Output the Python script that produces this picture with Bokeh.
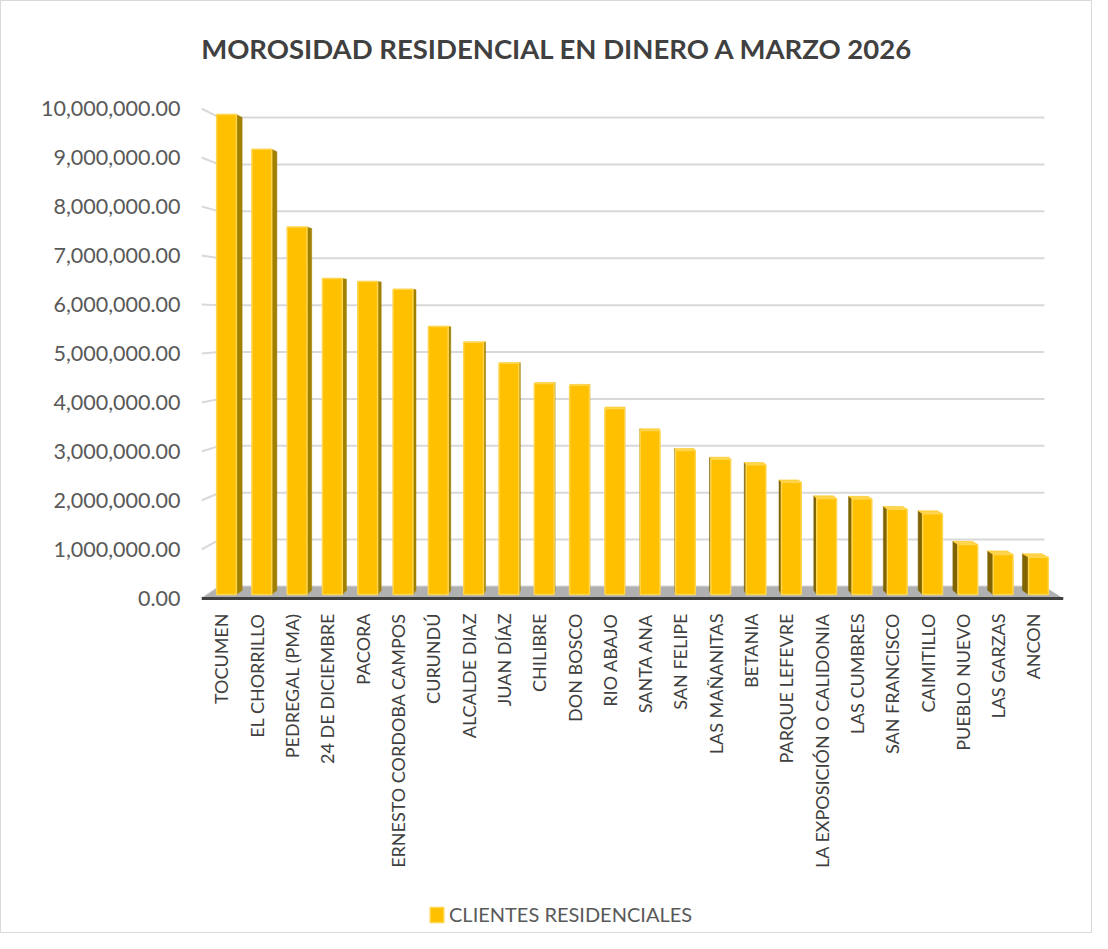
import math
from bokeh.plotting import figure
from bokeh.models import FixedTicker, NumeralTickFormatter, Legend, LegendItem, ColumnDataSource, Range1d
from bokeh.core.properties import value
from bokeh.embed import file_html
from bokeh.resources import INLINE

# ---------------- data ----------------
categories = [
    "TOCUMEN", "EL CHORRILLO", "PEDREGAL (PMA)", "24 DE DICIEMBRE", "PACORA",
    "ERNESTO CORDOBA CAMPOS", "CURUNDÚ", "ALCALDE DIAZ", "JUAN DÍAZ", "CHILIBRE",
    "DON BOSCO", "RIO ABAJO", "SANTA ANA", "SAN FELIPE", "LAS MAÑANITAS", "BETANIA",
    "PARQUE LEFEVRE", "LA EXPOSICIÓN O CALIDONIA", "LAS CUMBRES", "SAN FRANCISCO",
    "CAIMITILLO", "PUEBLO NUEVO", "LAS GARZAS", "ANCON",
]
values = [
    9880000, 9170000, 7580000, 6530000, 6470000,
    6310000, 5550000, 5230000, 4800000, 4390000,
    4350000, 3880000, 3430000, 3020000, 2840000, 2730000,
    2370000, 2040000, 2030000, 1820000,
    1730000, 1100000, 900000, 840000,
]
y_ticks = [0, 1000000, 2000000, 3000000, 4000000, 5000000,
           6000000, 7000000, 8000000, 9000000, 10000000]
series_name = "CLIENTES RESIDENCIALES"
title_text = "MOROSIDAD RESIDENCIAL EN DINERO A MARZO 2026"

# ---------------- 3-D look parameters (style) ----------------
PX_PER_UNIT = 49e-6              # pixels per currency unit on the y axis
X0, X1 = -0.708, 23.71
PX_PER_X = 862 / (X1 - X0)
Y1 = 597 / PX_PER_UNIT
Y0 = -(933 - 597) / PX_PER_UNIT
VPX, VPY = 11.16, 5690000.0      # vanishing point
BACK_S = 0.957                   # back wall scale
BAR_R = 0.985                    # bar depth scale
HW = 0.28                        # half bar width
BASE = 82000                     # bar front-face base (floor depth)
LABEL_Y = -15 / PX_PER_UNIT      # category labels start 15px under floor
TITLE_X = X0 + 356 / PX_PER_X
TITLE_Y = (597 - 47) / PX_PER_UNIT
FONT = "Lato"


def proj(x, y, s):
    return VPX + s * (x - VPX), VPY + s * (y - VPY)


xs = list(range(len(categories)))

p = figure(width=1092, height=933, x_range=Range1d(X0, X1), y_range=Range1d(Y0, Y1),
           output_backend="svg", toolbar_location=None,
           min_border_left=200, min_border_right=30, min_border_top=0,
           min_border_bottom=0)
p.styles = {"border": "1px solid #D9D9D9"}
p.outline_line_color = None
p.xgrid.visible = False
p.ygrid.visible = False
p.xaxis.visible = False
p.background_fill_color = "white"
p.border_fill_color = "white"

# title
p.text(x=[TITLE_X], y=[TITLE_Y], text=[title_text], text_align="center",
       text_baseline="middle", text_font=value(FONT), text_font_style="bold",
       text_font_size="27.5px", text_color="#404040")

# wall gridlines (side wall slanted + back wall horizontal)
gx, gy = [], []
for t in y_ticks:
    bxl, by = proj(X0, t, BACK_S)
    bxr, _ = proj(X1, t, BACK_S)
    gx.append([X0, bxl, bxr])
    gy.append([t, by, by])
p.multi_line(gx, gy, line_color="#D9D9D9", line_width=2)

# floor
fbl = proj(X0, 0, BACK_S)
fbr = proj(X1, 0, BACK_S)
p.patch([X0, X1, fbr[0], fbl[0]], [0, 0, fbr[1], fbl[1]],
        fill_color="#B0B0B0", line_color=None)
p.line([X0, X1], [0, 0], line_color="#404040", line_width=3)

# bar side and top faces
side_x, side_y, side_c = [], [], []
top_x, top_y = [], []
for c, v in zip(xs, values):
    if c < VPX:
        ex = c + HW
        col = "#A08000"
    else:
        ex = c - HW
        col = "#7F6400"
    b1 = proj(ex, BASE, BAR_R)
    b2 = proj(ex, v, BAR_R)
    side_x.append([ex, ex, b2[0], b1[0]])
    side_y.append([BASE, v, b2[1], b1[1]])
    side_c.append(col)
    if v < VPY:
        t1 = proj(c - HW, v, BAR_R)
        t2 = proj(c + HW, v, BAR_R)
        top_x.append([c - HW, c + HW, t2[0], t1[0]])
        top_y.append([v, v, t2[1], t1[1]])
p.patches(side_x, side_y, fill_color=side_c, line_color=side_c, line_width=0.5)
p.patches(top_x, top_y, fill_color="#FFD54F", line_color="#FFC000", line_width=0.5)

src = ColumnDataSource(dict(x=xs, top=values, name=categories,
                            ly=[LABEL_Y] * len(xs)))
bars = p.vbar(x="x", top="top", bottom=BASE, width=2 * HW, source=src,
              fill_color="#FFC000", line_color="#FFD54F", line_width=1.5)

# category labels (rotated, reading bottom to top)
p.text(x="x", y="ly", text="name", source=src, angle=math.pi / 2,
       text_align="right", text_baseline="middle", x_offset=-5,
       text_font=value(FONT), text_font_size="18px", text_color="#404040")

# y axis
p.yaxis.ticker = FixedTicker(ticks=y_ticks)
p.yaxis.formatter = NumeralTickFormatter(format="0,0.00")
p.yaxis.axis_line_color = None
p.yaxis.major_tick_line_color = None
p.yaxis.minor_tick_line_color = None
p.yaxis.major_tick_out = 0
p.yaxis.major_tick_in = 0
p.yaxis.major_label_standoff = 21
p.yaxis.major_label_text_font = FONT
p.yaxis.major_label_text_font_size = "21.5px"
p.yaxis.major_label_text_color = "#595959"

# legend
legend = Legend(items=[LegendItem(label=series_name, renderers=[bars])],
                location=(227, 8), orientation="horizontal",
                label_text_font=FONT, label_text_font_size="20px",
                label_text_color="#595959", glyph_width=17, glyph_height=19,
                label_standoff=4, padding=0, margin=0, spacing=0,
                background_fill_alpha=0, border_line_color=None)
p.add_layout(legend, "center")

open("out.html", "w").write(file_html(p, INLINE))
